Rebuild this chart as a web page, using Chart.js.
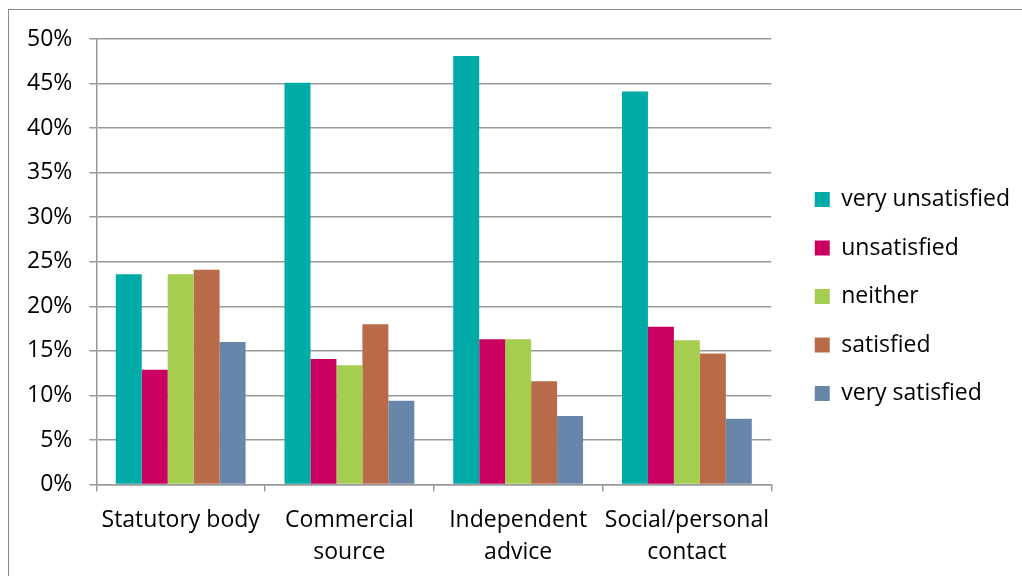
<!DOCTYPE html>
<html>
<head>
<meta charset="utf-8">
<script src="https://cdn.jsdelivr.net/npm/chart.js@4.4.1/dist/chart.umd.min.js"></script>
<style>
  html, body { margin: 0; padding: 0; background: #fff; overflow: hidden; }
  #frame {
    position: absolute; left: 8px; top: 9px; width: 1100px; height: 700px;
    border-left: 1px solid #8a8a8a; border-top: 1px solid #8a8a8a;
  }
  #wrap { position: absolute; left: 0; top: 0; width: 1022px; height: 576px; }
</style>
</head>
<body>
<div id="frame"></div>
<div id="wrap"><canvas id="chart"></canvas></div>
<script>
// survey answers per source of help, in percent
const categories = [["Statutory body"], ["Commercial", "source"], ["Independent", "advice"], ["Social/personal", "contact"]];
const seriesNames = ["very unsatisfied", "unsatisfied", "neither", "satisfied", "very satisfied"];
const veryUnsatisfied = [23.6, 45.1, 48.1, 44.1];
const unsatisfied = [12.9, 14.1, 16.3, 17.7];
const neither = [23.6, 13.4, 16.3, 16.2];
const satisfied = [24.1, 18.0, 11.6, 14.7];
const verySatisfied = [16.0, 9.4, 7.7, 7.4];
const yTicks = [0, 5, 10, 15, 20, 25, 30, 35, 40, 45, 50];

const colors = ["#00aaa7", "#c90060", "#a5cd50", "#b96a48", "#6886aa"];
const values = [veryUnsatisfied, unsatisfied, neither, satisfied, verySatisfied];

const font = { family: "'Open Sans', sans-serif", size: 23 };
const gridColor = "#999999";

// push the legend a bit further away from the plot and nudge it up
const legendGap = {
  id: "legendGap",
  afterLayout(chart) {
    const lg = chart.legend;
    lg.left += 18;
    lg.right += 18;
    lg.top -= 14;
    lg.bottom -= 14;
  }
};

new Chart(document.getElementById("chart"), {
  type: "bar",
  data: {
    labels: categories,
    datasets: seriesNames.map((name, i) => ({
      label: name,
      data: values[i],
      backgroundColor: colors[i],
      borderWidth: 0,
      barPercentage: 1,
      categoryPercentage: 5 / 6.5,
    })),
  },
  options: {
    responsive: true,
    maintainAspectRatio: false,
    animation: false,
    layout: { padding: { left: 10, top: 39, right: 20, bottom: -6 } },
    plugins: {
      tooltip: { enabled: false },
      legend: {
        position: "right",
        labels: {
          color: "#000",
          font: font,
          boxWidth: 15,
          boxHeight: 15,
          padding: 25.5,
        },
      },
    },
    scales: {
      x: {
        grid: {
          drawOnChartArea: false,
          drawTicks: true,
          tickLength: 7,
          color: gridColor,
          lineWidth: 1.5,
        },
        border: { color: gridColor, width: 1.5 },
        ticks: {
          color: "#000",
          font: { ...font, lineHeight: 1.4 },
          maxRotation: 0,
          autoSkip: false,
          padding: 13,
        },
      },
      y: {
        min: 0,
        max: 50,
        afterBuildTicks(axis) {
          axis.ticks = yTicks.map((v) => ({ value: v }));
        },
        grid: {
          color: gridColor,
          lineWidth: 1.5,
          tickLength: 7,
        },
        border: { color: gridColor, width: 1.5 },
        ticks: {
          color: "#000",
          font: font,
          padding: 17,
          callback: (v) => v + "%",
        },
      },
    },
  },
  plugins: [legendGap],
});
</script>
</body>
</html>
